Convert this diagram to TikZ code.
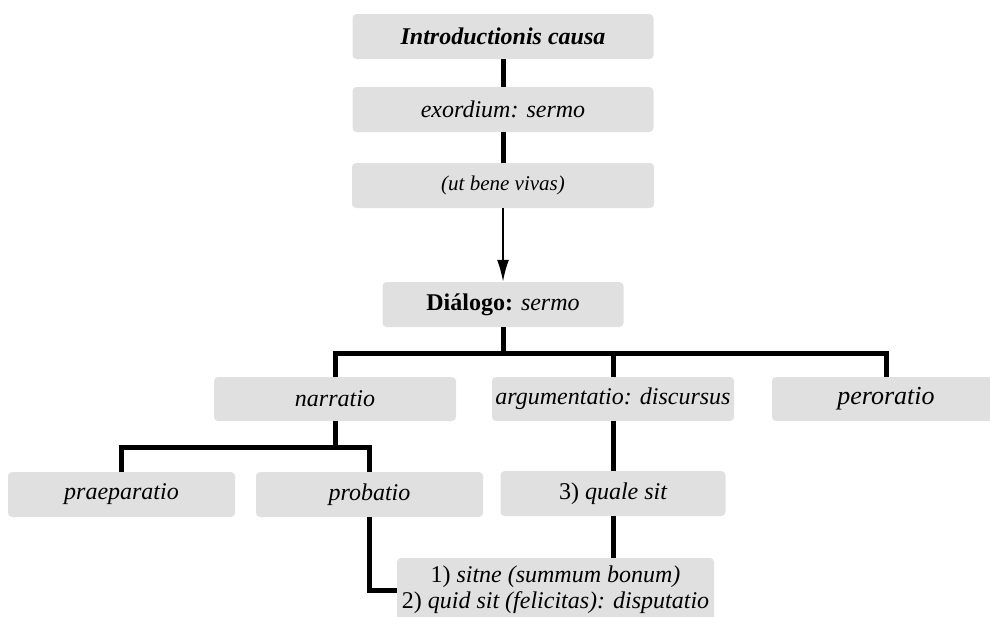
\documentclass[tikz,border=0pt]{standalone}
\usepackage{fontspec}
\setmainfont{Liberation Serif}
\usetikzlibrary{arrows.meta}
\definecolor{boxgray}{HTML}{E0E0E0}
\begin{document}
\begin{tikzpicture}[x=1pt,y=-1pt,
  box/.style={fill=boxgray, rounded corners=4pt, inner sep=0pt,
    font=\fontsize{24}{26}\selectfont\itshape, align=center},
  conn/.style={line width=5pt, draw=black},
  thinarrow/.style={line width=2pt, draw=black, -{Latex[length=22pt,width=12pt]}}]
\clip (0,0) rectangle (990,616);
\node[box, minimum width=301pt, minimum height=45pt] (intro) at (503,36.5) {\textbf{Introductionis causa}};
\node[box, minimum width=301pt, minimum height=45pt] (exord) at (503,109.5) {exordium: sermo};
\node[box, minimum width=302pt, minimum height=45pt, font=\fontsize{21}{24}\selectfont\itshape] (ut) at (503,185.5) {(ut bene vivas)};
\node[box, minimum width=241pt, minimum height=45pt] (dial) at (503,304.5) {\textbf{\upshape Diálogo:} sermo};
\node[box, minimum width=242pt, minimum height=44pt] (narr) at (335,399) {narratio};
\node[box, minimum width=242pt, minimum height=44pt] (arg) at (613,399) {argumentatio: discursus};
\node[box, minimum width=228pt, minimum height=44pt, font=\fontsize{26}{28}\selectfont\itshape] (pero) at (886,399) {peroratio};
\node[box, minimum width=227pt, minimum height=45pt] (prae) at (121.5,494.5) {praeparatio};
\node[box, minimum width=227pt, minimum height=45pt] (prob) at (369.5,494.5) {probatio};
\node[box, minimum width=225pt, minimum height=45pt] (quale) at (613,493.5) {{\upshape 3)} quale sit};
\node[box, minimum width=317pt, minimum height=64pt] (bot) at (555.5,590) {{\upshape 1)} sitne (summum bonum)\\{\upshape 2)} quid sit (felicitas): disputatio};
\coordinate (hub) at (503,353);
\coordinate (nh) at (335,447);
\draw[conn] (intro.south) -- (exord.north);
\draw[conn] (exord.south) -- (ut.north);
\draw[thinarrow] (ut.south) -- (dial.north);
\draw[conn] (dial.south) -- (hub);
\draw[conn] (narr.north) |- (hub) -| (pero.north);
\draw[conn] (arg.north) -- (arg.north |- hub);
\draw[conn] (narr.south) -- (nh);
\draw[conn] (prae.north) |- (nh) -| (prob.north);
\draw[conn] (arg.south) -- (quale.north);
\draw[conn] (quale.south) -- (quale.south |- bot.north);
\draw[conn] (prob.south) |- (bot.west);
\end{tikzpicture}
\end{document}
